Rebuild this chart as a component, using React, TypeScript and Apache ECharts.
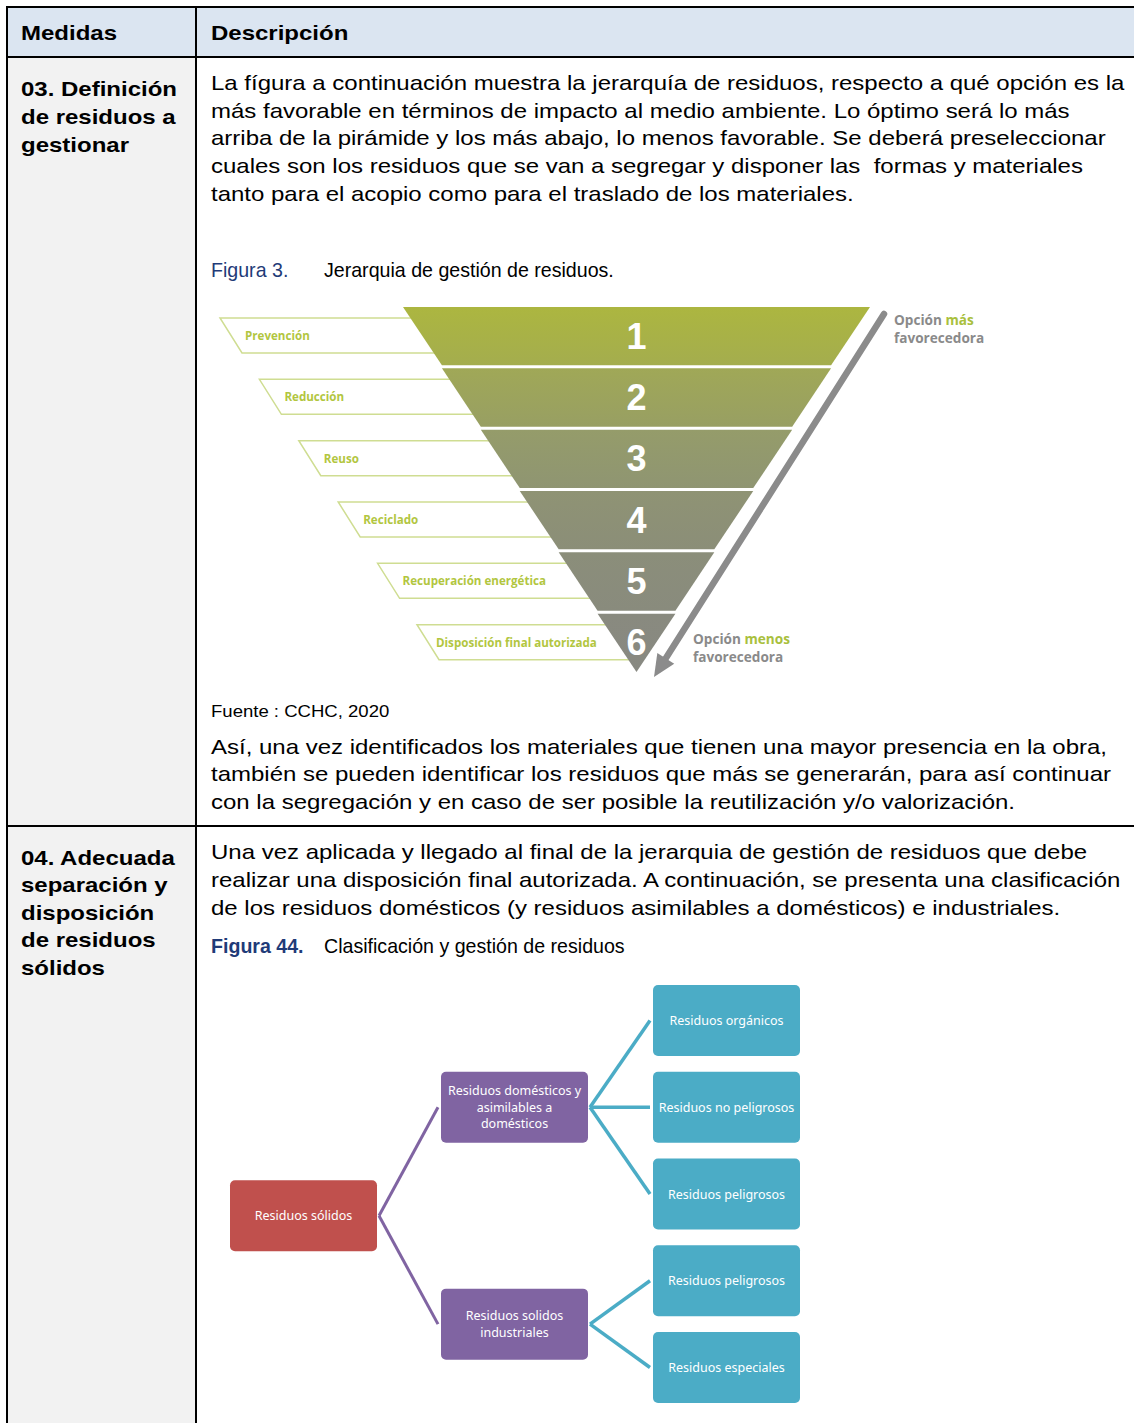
import React, { useEffect, useRef } from 'react';
import * as echarts from 'echarts';

// ---------- Data ----------
const headerLabels = ['Medidas', 'Descripción'];

const row1Measure = ['03. Definición', 'de residuos a', 'gestionar'];
const row1Intro = [
  'La fígura a continuación muestra la jerarquía de residuos, respecto a qué opción es la',
  'más favorable en términos de impacto al medio ambiente. Lo óptimo será lo más',
  'arriba de la pirámide y los más abajo, lo menos favorable. Se deberá preseleccionar',
  'cuales son los residuos que se van a segregar y disponer las  formas y materiales',
  'tanto para el acopio como para el traslado de los materiales.',
];
const fig3Label = 'Figura 3.';
const fig3Title = 'Jerarquia de gestión de residuos.';

const hierarchyLevels = [
  'Prevención',
  'Reducción',
  'Reuso',
  'Reciclado',
  'Recuperación energética',
  'Disposición final autorizada',
];
const hierarchyRanks = ['1', '2', '3', '4', '5', '6'];
const hierarchyWidths = [6, 5, 4, 3, 2, 1];
const hierarchyTopColors = ['#acb640', '#a0a857', '#959c6a', '#8f9374', '#8b8e7a', '#898a7f'];
const hierarchyBottomColors = ['#a4ad4e', '#989f63', '#8f9572', '#8b8e78', '#898b7d', '#888982'];
const bestOption = ['Opción ', 'más', 'favorecedora'];
const worstOption = ['Opción ', 'menos', 'favorecedora'];

const sourceNote = 'Fuente : CCHC, 2020';
const row1Outro = [
  'Así, una vez identificados los materiales que tienen una mayor presencia en la obra,',
  'también se pueden identificar los residuos que más se generarán, para así continuar',
  'con la segregación y en caso de ser posible la reutilización y/o valorización.',
];

const row2Measure = ['04. Adecuada', 'separación y', 'disposición', 'de residuos', 'sólidos'];
const row2Intro = [
  'Una vez aplicada y llegado al final de la jerarquia de gestión de residuos que debe',
  'realizar una disposición final autorizada. A continuación, se presenta una clasificación',
  'de los residuos domésticos (y residuos asimilables a domésticos) e industriales.',
];
const fig44Label = 'Figura 44.';
const fig44Title = 'Clasificación y gestión de residuos';

const treeRoot = 'Residuos sólidos';
const treeGroups = ['Residuos domésticos y\nasimilables a\ndomésticos', 'Residuos solidos\nindustriales'];
const treeLeaves = [
  ['Residuos orgánicos', 'Residuos no peligrosos', 'Residuos peligrosos'],
  ['Residuos peligrosos', 'Residuos especiales'],
];

// ---------- Styling constants ----------
const SX = 1.2; // horizontal stretch of document text
const NARROW = 0.98; // narrow caption font emulation
const BODY_FONT = '20px "Liberation Sans", Arial, sans-serif';
const BOLD_FONT = 'bold 20px "Liberation Sans", Arial, sans-serif';
const CAPTION_BLUE = '#1f3b78';

function txt(text: string, x: number, y: number, font: string, fill = '#000', sx = SX, extra: any = {}) {
  return {
    type: 'text',
    x,
    y,
    scaleX: sx,
    z: 20,
    silent: true,
    style: {
      text,
      font,
      fill,
      align: 'left',
      textAlign: 'left',
      verticalAlign: 'middle',
      textVerticalAlign: 'middle',
      ...extra,
    },
  };
}

function hline(x1: number, x2: number, y: number, w = 2) {
  return { type: 'line', z: 30, silent: true, shape: { x1, y1: y, x2, y2: y }, style: { stroke: '#000', lineWidth: w } };
}
function vline(x: number, y1: number, y2: number, w = 2) {
  return { type: 'line', z: 30, silent: true, shape: { x1: x, y1, x2: x, y2 }, style: { stroke: '#000', lineWidth: w } };
}

function buildOption() {
  const els: any[] = [];

  // table backgrounds
  els.push({ type: 'rect', z: 0, silent: true, shape: { x: 8, y: 8, width: 1126, height: 49 }, style: { fill: '#dbe5f1' } });
  els.push({ type: 'rect', z: 0, silent: true, shape: { x: 8, y: 57, width: 188, height: 1366 }, style: { fill: '#f2f2f2' } });

  // borders
  els.push(hline(6, 1134, 7));
  els.push(hline(6, 1134, 57));
  els.push(hline(6, 1134, 826));
  els.push(vline(7, 6, 1423));
  els.push(vline(196, 6, 1423));

  // header
  els.push(txt(headerLabels[0], 21, 33, BOLD_FONT));
  els.push(txt(headerLabels[1], 211, 33, BOLD_FONT));

  // row 1 left
  row1Measure.forEach((t, i) => els.push(txt(t, 21, 89 + i * 28, BOLD_FONT)));
  // row 1 text
  row1Intro.forEach((t, i) => els.push(txt(t, 211, 83 + i * 27.75, BODY_FONT)));
  els.push(txt(fig3Label, 211, 270, BODY_FONT, CAPTION_BLUE, NARROW));
  els.push(txt(fig3Title, 324, 270, BODY_FONT, '#000', NARROW));
  els.push(txt(sourceNote, 211, 712, '15.6px "Liberation Sans", Arial, sans-serif', '#000', 1.19));
  row1Outro.forEach((t, i) => els.push(txt(t, 211, 747 + i * 27.5, BODY_FONT)));

  // row 2
  row2Measure.forEach((t, i) => els.push(txt(t, 21, 858 + i * 27.5, BOLD_FONT)));
  row2Intro.forEach((t, i) => els.push(txt(t, 211, 852 + i * 28, BODY_FONT)));
  els.push(txt(fig44Label, 211, 946, BOLD_FONT, CAPTION_BLUE, NARROW));
  els.push(txt(fig44Title, 324, 946, BODY_FONT, '#000', NARROW));

  // ----- pyramid decorations -----
  const FUN_LEFT = 403;
  const FUN_TOP = 307;
  const FUN_W = 467;
  const FUN_H = 365;
  const GAP = 3;
  const n = hierarchyLevels.length;
  const segH = (FUN_H - GAP * (n - 1)) / n;
  const labelGreen = '#b2c63f';
  const bandStroke = '#cfdd92';
  hierarchyLevels.forEach((name, i) => {
    const top = FUN_TOP + i * (segH + GAP) + 11;
    const h = 35;
    const xl = 220 + i * 39.4;
    els.push({
      type: 'polygon',
      z: 1,
      silent: true,
      shape: { points: [[xl, top], [FUN_LEFT + FUN_W / 2, top], [FUN_LEFT + FUN_W / 2, top + h], [xl + 22, top + h]] },
      style: { fill: '#fff', stroke: bandStroke, lineWidth: 1.5 },
    });
    els.push({
      type: 'text',
      z: 3,
      silent: true,
      x: xl + (i === n - 1 ? 19 : 25),
      y: top + h / 2,
      style: {
        text: name,
        font: 'bold 11.6px "Open Sans", "Noto Sans", sans-serif',
        fill: labelGreen,
        align: 'left',
        textAlign: 'left',
        verticalAlign: 'middle',
        textVerticalAlign: 'middle',
      },
    });
  });

  // arrow
  const ax1 = 884, ay1 = 314, tipX = 654, tipY = 677;
  const dx = tipX - ax1, dy = tipY - ay1;
  const len = Math.sqrt(dx * dx + dy * dy);
  const ux = dx / len, uy = dy / len;
  const headL = 22, headW = 10;
  const bx = tipX - ux * headL, by = tipY - uy * headL;
  const arrowGray = '#8b8b8b';
  els.push({
    type: 'line',
    z: 3,
    silent: true,
    shape: { x1: ax1, y1: ay1, x2: bx + ux * 2, y2: by + uy * 2 },
    style: { stroke: arrowGray, lineWidth: 6.5, lineCap: 'round' },
  });
  els.push({
    type: 'polygon',
    z: 3,
    silent: true,
    shape: { points: [[tipX, tipY], [bx - uy * headW, by + ux * headW], [bx + uy * headW, by - ux * headW]] },
    style: { fill: arrowGray },
  });
  const optFont = 'bold 13.6px "Open Sans", "Noto Sans", sans-serif';
  const optRich = {
    g: { fill: '#8a8a8a', font: optFont },
    v: { fill: '#a9c03d', font: optFont },
  };
  const optText = (parts: string[], x: number, y: number) => {
    els.push({
      type: 'text', z: 3, silent: true, x, y,
      style: { text: `{g|${parts[0]}}{v|${parts[1]}}`, rich: optRich, align: 'left', textAlign: 'left', verticalAlign: 'middle', textVerticalAlign: 'middle' },
    });
    els.push({
      type: 'text', z: 3, silent: true, x, y: y + 18,
      style: { text: parts[2], font: optFont, fill: '#8a8a8a', align: 'left', textAlign: 'left', verticalAlign: 'middle', textVerticalAlign: 'middle' },
    });
  };
  optText(bestOption, 894, 319);
  optText(worstOption, 693, 638);

  // ----- tree diagram -----
  const BOX_W = 147, BOX_H = 71;
  const X0 = 230, X1 = 441, X2 = 653;
  const LEAF_TOP = 985, LEAF_PITCH = 86.75;
  const red = '#c0504d', purple = '#8064a2', teal = '#4bacc6';
  const boxFont = '12.5px "Noto Sans", "Open Sans", sans-serif';
  const box = (x: number, cy: number, label: string, fill: string) => {
    els.push({ type: 'rect', z: 5, silent: true, shape: { x, y: cy - BOX_H / 2, width: BOX_W, height: BOX_H, r: 5 }, style: { fill } });
    els.push({
      type: 'text', z: 6, silent: true, x: x + BOX_W / 2, y: cy,
      style: { text: label, font: boxFont, fill: '#fff', lineHeight: 16.5, align: 'center', textAlign: 'center', verticalAlign: 'middle', textVerticalAlign: 'middle' },
    });
  };
  const link = (x1: number, y1: number, x2: number, y2: number, stroke: string, w: number) => {
    els.push({ type: 'line', z: 4, silent: true, shape: { x1, y1, x2, y2 }, style: { stroke, lineWidth: w } });
  };
  let leafIdx = 0;
  const groupCenters: number[] = [];
  treeLeaves.forEach((leaves, gi) => {
    const centers = leaves.map((leaf) => {
      const cy = LEAF_TOP + leafIdx * LEAF_PITCH + BOX_H / 2;
      leafIdx++;
      box(X2, cy, leaf, teal);
      return cy;
    });
    const gcy = centers.reduce((a, b) => a + b, 0) / centers.length;
    groupCenters.push(gcy);
    box(X1, gcy, treeGroups[gi], purple);
    centers.forEach((cy) => link(X1 + BOX_W + 2, gcy, X2 - 3, cy, teal, 3.5));
  });
  const rootCy = groupCenters.reduce((a, b) => a + b, 0) / groupCenters.length;
  box(X0, rootCy, treeRoot, red);
  groupCenters.forEach((cy) => link(X0 + BOX_W + 2, rootCy, X1 - 3, cy, purple, 3));

  return {
    animation: false,
    backgroundColor: '#ffffff',
    series: [
      {
        type: 'funnel',
        z: 2,
        left: FUN_LEFT,
        top: FUN_TOP,
        width: FUN_W,
        height: FUN_H,
        min: 0,
        max: 6,
        minSize: '0%',
        maxSize: '100%',
        sort: 'none',
        gap: GAP,
        funnelAlign: 'center',
        silent: true,
        emphasis: { disabled: true },
        label: {
          show: true,
          position: 'inside',
          formatter: (p: any) => hierarchyRanks[p.dataIndex],
          color: '#ffffff',
          fontSize: 36,
          fontWeight: 'bold',
          fontFamily: '"Liberation Sans", Arial, sans-serif',
          offset: [-2, 0],
        },
        labelLine: { show: false },
        itemStyle: { borderWidth: 0 },
        data: hierarchyLevels.map((name, i) => ({
          name,
          value: hierarchyWidths[i],
          itemStyle: {
            color: {
              type: 'linear', x: 0, y: 0, x2: 0, y2: 1,
              colorStops: [
                { offset: 0, color: hierarchyTopColors[i] },
                { offset: 1, color: hierarchyBottomColors[i] },
              ],
            },
          },
        })),
      },
    ],
    graphic: { elements: els },
  };
}

export default function App() {
  const ref = useRef<HTMLDivElement>(null);
  useEffect(() => {
    if (!ref.current) return;
    const chart = echarts.init(ref.current, null, { renderer: 'svg' });
    chart.setOption(buildOption() as any);
    return () => chart.dispose();
  }, []);
  return (
    <div
      ref={ref}
      style={{ position: 'absolute', left: 0, top: 0, width: 1134, height: 1423, background: '#fff' }}
    />
  );
}
